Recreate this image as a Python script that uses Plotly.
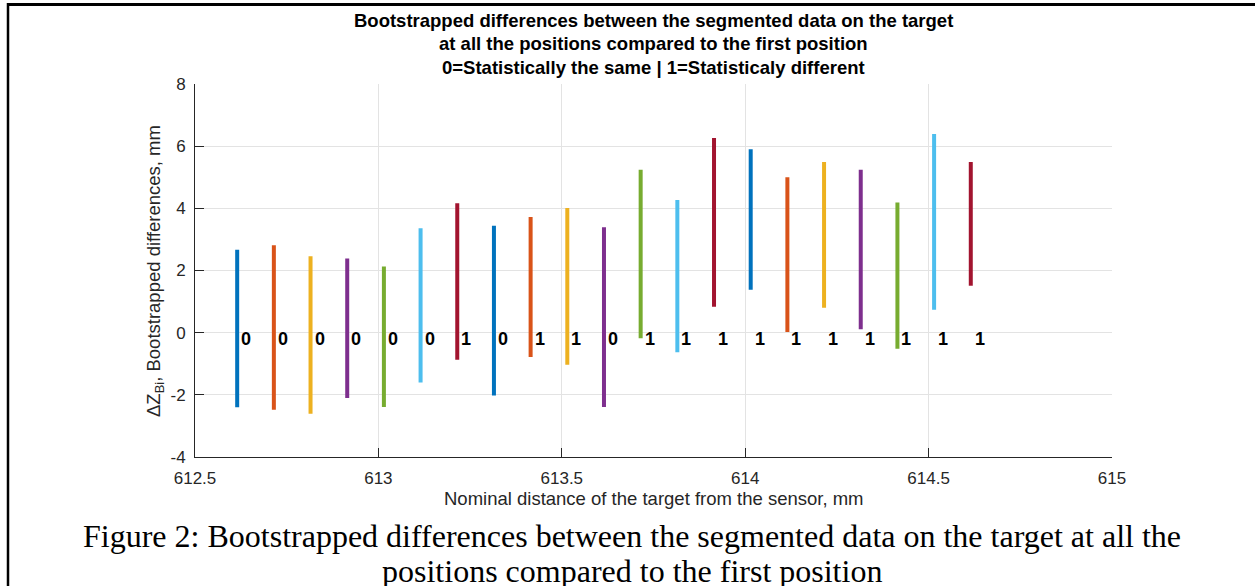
import plotly.graph_objects as go

# ---------------- data ----------------
positions = [612.615, 612.715, 612.815, 612.915, 613.015, 613.115, 613.215,
             613.315, 613.415, 613.515, 613.615, 613.715, 613.815, 613.915,
             614.015, 614.115, 614.215, 614.315, 614.415, 614.515, 614.615]
low_values = [-2.40, -2.48, -2.61, -2.10, -2.39, -1.60, -0.87,
              -2.02, -0.78, -1.03, -2.39, -0.18, -0.63, 0.83,
              1.38, 0.02, 0.80, 0.11, -0.52, 0.74, 1.51]
high_values = [2.67, 2.81, 2.46, 2.39, 2.13, 3.36, 4.16,
               3.44, 3.72, 4.01, 3.39, 5.24, 4.27, 6.26,
               5.90, 5.00, 5.49, 5.24, 4.19, 6.39, 5.49]
test_results = ["0", "0", "0", "0", "0", "0", "1", "0", "1", "1", "0",
                "1", "1", "1", "1", "1", "1", "1", "1", "1", "1"]
label_level = -0.2

x_ticks = [612.5, 613, 613.5, 614, 614.5, 615]
x_tick_labels = ["612.5", "613", "613.5", "614", "614.5", "615"]
y_ticks = [-4, -2, 0, 2, 4, 6, 8]
y_tick_labels = ["-4", "-2", "0", "2", "4", "6", "8"]

title_lines = ["Bootstrapped differences between the segmented data on the target",
               "at all the positions compared to the first position",
               "0=Statistically the same | 1=Statisticaly different"]
x_label = "Nominal distance of the target from the sensor, mm"
y_label = "ΔZ<sub>Bi</sub>, Bootstrapped differences, mm"
caption_lines = ["Figure 2: Bootstrapped differences between the segmented data on the target at all the",
                 "positions compared to the first position"]

colors = ["#0072BD", "#D95319", "#EDB120", "#7E2F8E", "#77AC30", "#4DBEEE", "#A2142F"]

# ---------------- layout geometry ----------------
W, H = 1255, 586
ML, MR, MT, MB = 195, 143, 84, 129
PW, PH = W - ML - MR, H - MT - MB


def fx(xpix):
    return (xpix - ML) / PW


def fy(ypix):
    return (H - MB - ypix) / PH


fig = go.Figure()

for i, (p, lo, hi) in enumerate(zip(positions, low_values, high_values)):
    fig.add_trace(go.Scatter(
        x=[p, p], y=[lo, hi], mode="lines",
        line=dict(color=colors[i % len(colors)], width=4),
        showlegend=False, hoverinfo="skip"))

annotations = []
for p, r in zip(positions, test_results):
    annotations.append(dict(
        x=p, y=label_level, xref="x", yref="y", text="<b>%s</b>" % r,
        showarrow=False, xanchor="left", yanchor="middle", xshift=2,
        font=dict(family="Liberation Sans, Arial", size=18, color="#000000")))

title_y = [20, 44, 68]
for t, yp in zip(title_lines, title_y):
    annotations.append(dict(
        x=0.5, y=fy(yp), xref="paper", yref="paper", text="<b>%s</b>" % t,
        showarrow=False, xanchor="center", yanchor="middle",
        font=dict(family="Liberation Sans, Arial", size=18.5, color="#000000")))

annotations.append(dict(
    x=0.5, y=fy(498), xref="paper", yref="paper", text=x_label,
    showarrow=False, xanchor="center", yanchor="middle",
    font=dict(family="Liberation Sans, Arial", size=18.5, color="#262626")))

annotations.append(dict(
    x=fx(155), y=fy(271), xref="paper", yref="paper", text=y_label,
    showarrow=False, xanchor="center", yanchor="middle", textangle=-90,
    font=dict(family="Liberation Sans, Arial", size=18.5, color="#262626")))

caption_y = [536, 571]
for t, yp in zip(caption_lines, caption_y):
    annotations.append(dict(
        x=fx(632), y=fy(yp), xref="paper", yref="paper", text=t,
        showarrow=False, xanchor="center", yanchor="middle",
        font=dict(family="Liberation Serif, Times New Roman", size=32, color="#000000")))

shapes = [
    # page frame: top rule and left rule
    dict(type="line", xref="paper", yref="paper", x0=fx(7), x1=fx(W + 5),
         y0=fy(4.5), y1=fy(4.5), line=dict(color="#000000", width=3)),
    dict(type="line", xref="paper", yref="paper", x0=fx(8), x1=fx(8),
         y0=fy(3), y1=fy(H + 5), line=dict(color="#000000", width=2.5)),
]

fig.update_layout(
    width=W, height=H,
    margin=dict(l=ML, r=MR, t=MT, b=MB, pad=0),
    paper_bgcolor="#ffffff", plot_bgcolor="#ffffff",
    annotations=annotations, shapes=shapes,
    font=dict(family="Liberation Sans, Arial", size=17, color="#262626"),
    xaxis=dict(range=[612.5, 615], tickvals=x_ticks, ticktext=x_tick_labels,
               showgrid=True, gridcolor="#e3e3e3", gridwidth=1,
               showline=True, linecolor="#262626", linewidth=1,
               ticks="inside", ticklen=9, tickcolor="#262626",
               ticklabelstandoff=6, zeroline=False,
               tickfont=dict(size=17, color="#262626")),
    yaxis=dict(range=[-4, 8], tickvals=y_ticks, ticktext=y_tick_labels,
               showgrid=True, gridcolor="#e3e3e3", gridwidth=1,
               showline=True, linecolor="#262626", linewidth=1,
               ticks="inside", ticklen=9, tickcolor="#262626",
               ticklabelstandoff=5, zeroline=False,
               tickfont=dict(size=17, color="#262626")),
)

fig.write_html("out.html")
